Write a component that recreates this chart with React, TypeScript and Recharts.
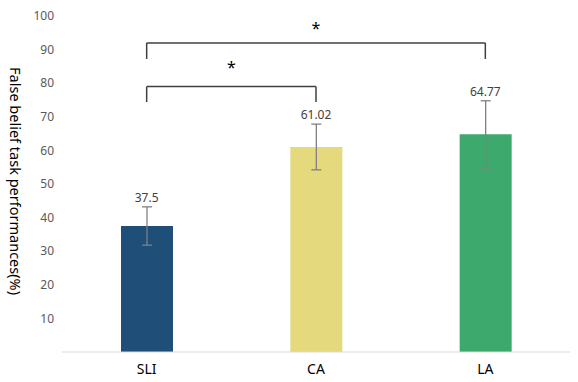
import React from 'react';
import { BarChart, Bar, XAxis, YAxis, Cell, ErrorBar, ReferenceLine, ReferenceDot } from 'recharts';

const groups = ['SLI', 'CA', 'LA'];
const means = [37.5, 61.02, 64.77];
const errors = [5.7, 6.8, 10];
const yTicks = [10, 20, 30, 40, 50, 60, 70, 80, 90, 100];

// significance brackets: group index pairs, bracket height, leg end, star height
const sigFrom = [0, 0];
const sigTo = [2, 1];
const sigTop = [92, 79];
const sigLeg = [87.2, 74.4];
const sigStar = [96.2, 84.6];

const barColors = ['#1f4e79', '#e5d97e', '#3ea96d'];
const font = '"Noto Sans", "Open Sans", sans-serif';

const data = groups.map((g, i) => ({ group: g, pos: i, value: means[i], err: errors[i] }));

const App = () => {
  return (
    <div style={{ position: 'absolute', left: 0, top: 0, width: 578, height: 382, background: '#fff' }}>
      <BarChart
        width={578}
        height={382}
        data={data}
        margin={{ top: 16, right: 8, bottom: 0, left: 0 }}
        style={{ fontFamily: font }}
      >
        <XAxis
          dataKey="group"
          axisLine={{ stroke: '#d9d9d9' }}
          tickLine={false}
          tickMargin={6}
          height={30}
          tick={{ fill: '#000', fontSize: 14 }}
        />
        <XAxis xAxisId="num" dataKey="pos" type="number" domain={[-0.5, 2.5]} allowDataOverflow hide />
        <YAxis
          domain={[0, 100]}
          ticks={yTicks}
          axisLine={false}
          tickLine={false}
          width={62}
          tick={{ fill: '#595959', fontSize: 12 }}
          label={{
            value: 'False belief task performances(%)',
            angle: 90,
            position: 'center',
            dx: -16,
            dy: -3,
            fill: '#000',
            fontSize: 14.5,
          }}
        />
        <Bar dataKey="value" barSize={52} isAnimationActive={false}>
          {data.map((d, i) => (
            <Cell key={d.group} fill={barColors[i]} />
          ))}
          <ErrorBar dataKey="err" width={5} stroke="#808080" strokeWidth={1.3} />
        </Bar>
        {data.map((d) => (
          <ReferenceDot
            key={'lbl' + d.group}
            xAxisId="num"
            x={d.pos}
            y={d.value + d.err}
            r={0}
            fill="none"
            stroke="none"
            label={{ value: String(d.value), position: 'top', offset: 5, fill: '#404040', fontSize: 12 }}
          />
        ))}
        {sigFrom.map((f, k) => (
          <React.Fragment key={'sig' + k}>
            <ReferenceLine
              xAxisId="num"
              segment={[{ x: f, y: sigTop[k] }, { x: sigTo[k], y: sigTop[k] }]}
              stroke="#404040"
              strokeWidth={1.5}
            />
            <ReferenceLine
              xAxisId="num"
              segment={[{ x: f, y: sigLeg[k] }, { x: f, y: sigTop[k] }]}
              stroke="#404040"
              strokeWidth={1.5}
            />
            <ReferenceLine
              xAxisId="num"
              segment={[{ x: sigTo[k], y: sigLeg[k] }, { x: sigTo[k], y: sigTop[k] }]}
              stroke="#404040"
              strokeWidth={1.5}
            />
            <ReferenceDot
              xAxisId="num"
              x={(f + sigTo[k]) / 2}
              y={sigStar[k]}
              r={0}
              fill="none"
              stroke="none"
              label={{ value: '*', position: 'center', fill: '#000', fontSize: 16 }}
            />
          </React.Fragment>
        ))}
      </BarChart>
    </div>
  );
};

export default App;
